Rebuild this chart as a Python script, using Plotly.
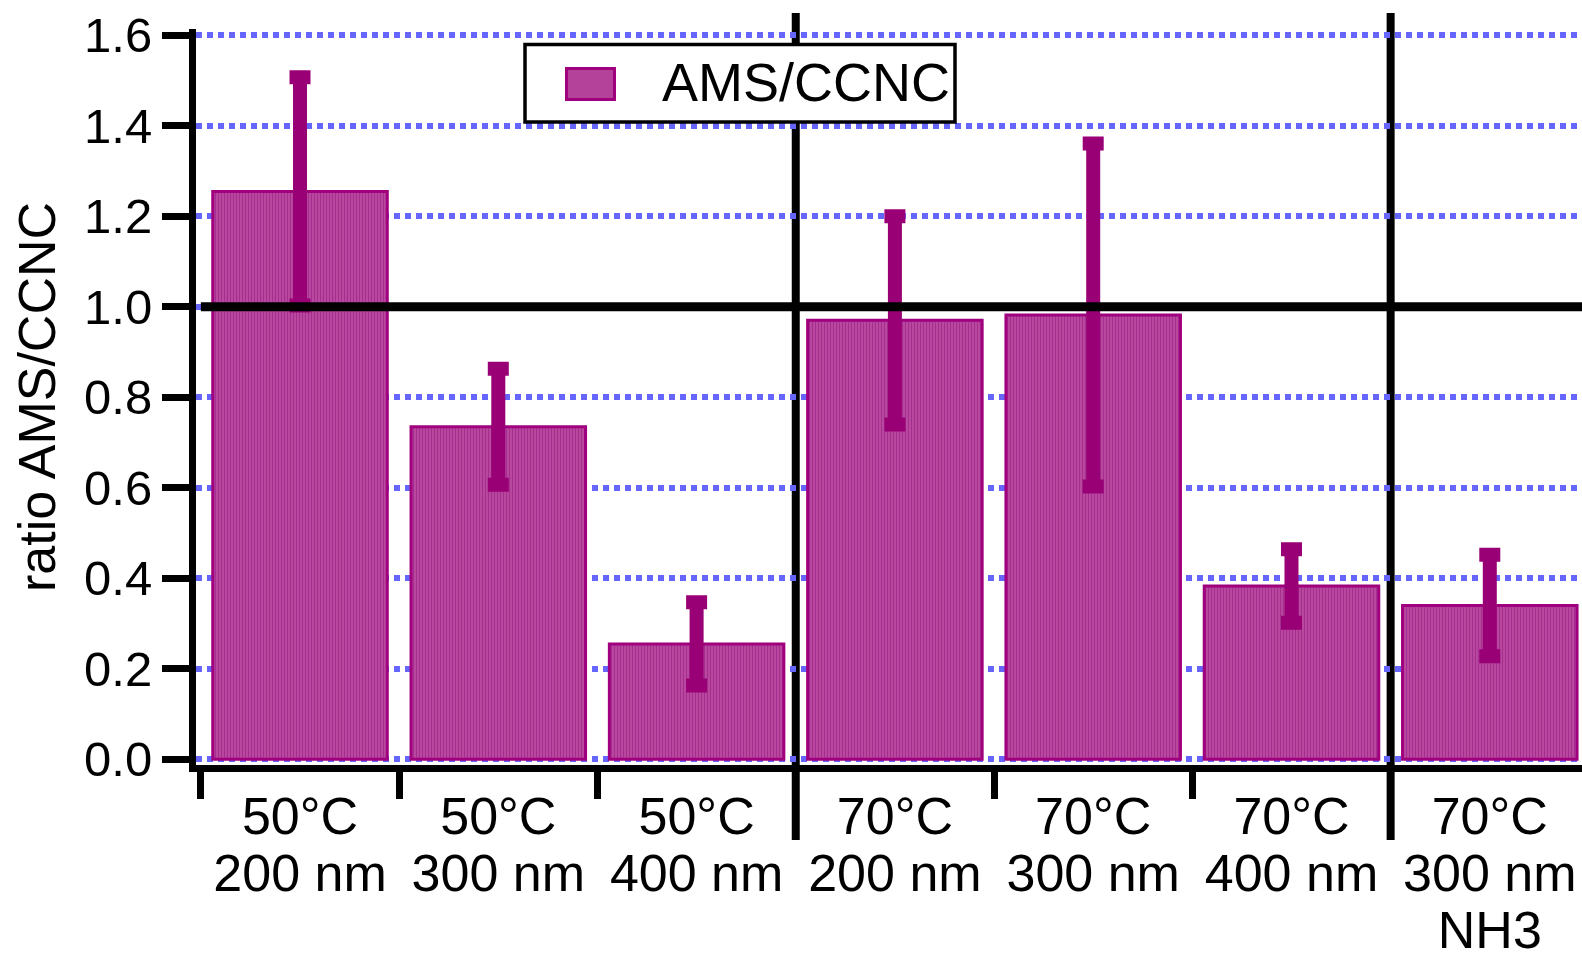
import plotly.graph_objects as go

# ---- data ----
temps = ["50°C", "50°C", "50°C", "70°C", "70°C", "70°C", "70°C"]
sizes = ["200 nm", "300 nm", "400 nm", "200 nm", "300 nm", "400 nm", "300 nm"]
extra = ["", "", "", "", "", "", "NH3"]
ratio = [1.255, 0.735, 0.255, 0.970, 0.982, 0.383, 0.340]
ratio_err = [0.252, 0.128, 0.092, 0.230, 0.379, 0.081, 0.112]
y_ticks = [0.0, 0.2, 0.4, 0.6, 0.8, 1.0, 1.2, 1.4, 1.6]
group_breaks = [2.5, 5.5]
reference_level = 1.0
series_name = "AMS/CCNC"

FONT = "Liberation Sans, Arial, Helvetica, sans-serif"
BAR_FILL = "#B4419A"
BAR_EDGE = "#A0007E"
ERR_COL = "#9A0076"

labels = []
for t, s, e in zip(temps, sizes, extra):
    parts = [t, s] + ([e] if e else [])
    labels.append("<br>".join(parts))
ticktext = ["<br>".join('<span style="font-size:52px">%s</span>' % p for p in lab.split("<br>"))
            for lab in labels]

fig = go.Figure()
fig.add_trace(go.Bar(
    x=labels, y=ratio, width=0.88, name=series_name, showlegend=False,
    marker=dict(color=BAR_FILL, line=dict(color=BAR_EDGE, width=3),
                pattern=dict(shape="|", size=3, solidity=0.35,
                             fgcolor="#A33090", bgcolor="#B8479D", fillmode="replace")),
    error_y=dict(type="data", array=ratio_err, visible=True,
                 color=ERR_COL, thickness=14, width=10.5),
))

W, H = 1582, 959
ml, mr, mt, mb = 196, 0, 29, 194
pw, ph = W - ml - mr, H - mt - mb

def px_x(p):
    return (p - ml) / pw

def px_y(p):
    return (H - mb - p) / ph

shapes = []
for gb in group_breaks:
    shapes.append(dict(type="line", xref="x", yref="paper", x0=gb, x1=gb,
                       y0=px_y(840), y1=px_y(13), layer="below",
                       line=dict(color="black", width=8)))
shapes.append(dict(type="line", xref="x", yref="y", x0=-0.50, x1=7, y0=reference_level,
                   y1=reference_level, layer="above", line=dict(color="black", width=9)))
# legend box
shapes.append(dict(type="rect", xref="paper", yref="paper",
                   x0=px_x(525), x1=px_x(955), y0=px_y(122), y1=px_y(44.5),
                   fillcolor="white", line=dict(color="black", width=3.5), layer="above"))
shapes.append(dict(type="rect", xref="paper", yref="paper",
                   x0=px_x(566.5), x1=px_x(614.5), y0=px_y(99.5), y1=px_y(68.5),
                   fillcolor=BAR_FILL, line=dict(color=BAR_EDGE, width=3), layer="above"))

fig.update_layout(
    width=W, height=H,
    margin=dict(l=ml, r=mr, t=mt, b=mb, pad=0, autoexpand=False),
    paper_bgcolor="white", plot_bgcolor="white",
    font=dict(family=FONT, color="black"),
    showlegend=False,
    shapes=shapes,
    annotations=[dict(text=series_name, xref="paper", yref="paper",
                      x=px_x(660), y=px_y(82), xanchor="left", yanchor="middle",
                      showarrow=False, font=dict(size=54, color="black", family=FONT))],
    xaxis=dict(type="category", categoryorder="array", categoryarray=labels,
               range=[-0.5245, 6.465], tickmode="array", tickvals=labels, ticktext=ticktext,
               tickson="boundaries", ticks="outside", ticklen=27, tickwidth=7,
               tickcolor="black", showline=True, linecolor="black", linewidth=7,
               showgrid=False, zeroline=False, tickangle=0, automargin=False,
               ticklabelstandoff=9,
               tickfont=dict(size=44, family=FONT, color="black")),
    yaxis=dict(range=[-0.0126, 1.6139], tickmode="array", tickvals=y_ticks,
               ticktext=["%.1f" % v for v in y_ticks], automargin=False,
               ticks="outside", ticklen=27, tickwidth=7, tickcolor="black",
               showline=True, linecolor="black", linewidth=7,
               showgrid=True, gridcolor="#6666FF", gridwidth=6, griddash="6px,5px",
               zeroline=False,
               tickfont=dict(size=49, family=FONT, color="black"),
               title=dict(text="ratio AMS/CCNC", font=dict(size=52, family=FONT, color="black"),
                          standoff=14)),
    bargap=0.12,
)

fig.write_html("out.html")
